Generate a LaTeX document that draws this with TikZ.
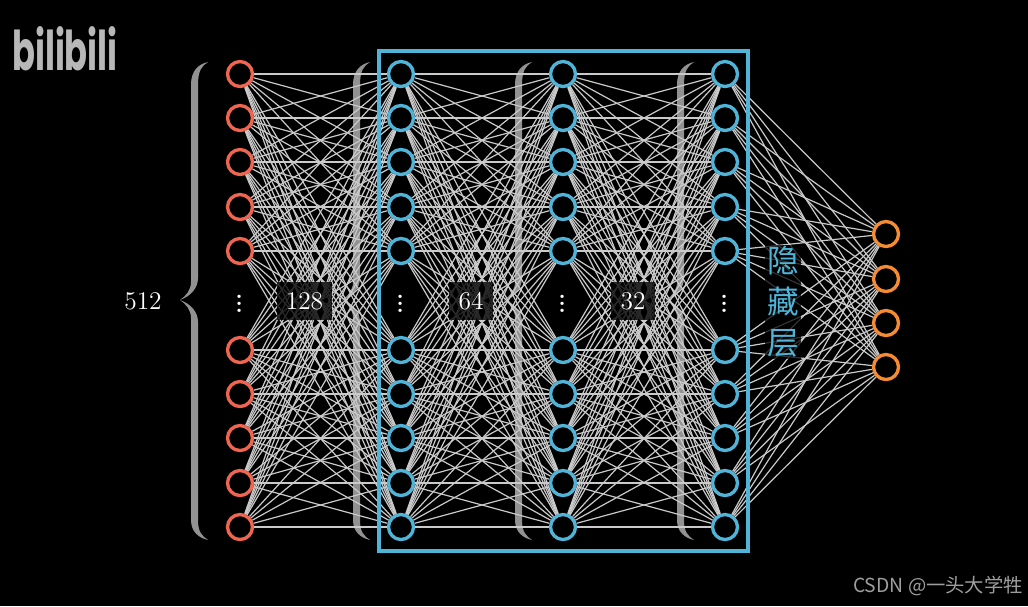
\documentclass[tikz,border=0pt]{standalone}
\usepackage{fontspec}
\newfontfamily\cjkfont{Noto Sans CJK SC}
\newfontfamily\logofont{Poppins}
\usetikzlibrary{arrows.meta,positioning}
\definecolor{inputred}{HTML}{F0654F}
\definecolor{hiddenblue}{HTML}{4FB4D8}
\definecolor{outputorange}{HTML}{F58B32}
\definecolor{edgegray}{HTML}{CACACA}
\definecolor{bracegray}{HTML}{929292}

\begin{document}
\begin{tikzpicture}[
    x=0.02cm, y=-0.02cm,
    every node/.style={font=\fontsize{14.5}{16}\selectfont, text=white},
    neuron/.style={circle, draw, fill=black, line width=1.9pt, minimum size=0.5cm, inner sep=0pt},
    inputn/.style={neuron, draw=inputred},
    hiddenn/.style={neuron, draw=hiddenblue},
    outputn/.style={neuron, draw=outputorange},
    link/.style={draw=edgegray, line width=0.68pt},
    frame/.style={draw=hiddenblue, line width=2.3pt},
    countbox/.style={fill=black, fill opacity=0.8, text opacity=1, minimum height=0.76cm, inner sep=0pt},
    bracket/.pic={
        \fill[bracegray] (17,-238) .. controls (8,-236) and (0,-230) .. (0,-215) -- (0,-18)
            .. controls (0,-10) and (-5,-4) .. (-11,0) .. controls (-5,4) and (0,10) .. (0,18)
            -- (0,220) .. controls (0,232) and (8,238) .. (17,240)
            .. controls (11,236) and (7,232) .. (7,220) -- (7,22)
            .. controls (7,12) and (0,4) .. (-11,0) .. controls (0,-4) and (7,-12) .. (7,-22)
            -- (7,-215) .. controls (7,-230) and (11,-234) .. (17,-238) -- cycle;
    }
]
\fill[black] (0,0) rectangle (1028,606);
\useasboundingbox (0,0) rectangle (1028,606);

\foreach \bx in {191,353,515,677}
    \pic at (\bx,300) {bracket};

% layers
\foreach \lname/\lx/\lstyle in {a/240/inputn, b/401/hiddenn, c/563/hiddenn, d/725/hiddenn} {
    \foreach \i/\ly in {1/74,2/118,3/162,4/207,5/251,6/350,7/394,8/438,9/483,10/527}
        \node[\lstyle] (\lname\i) at (\lx,\ly) {};
    \node[font=\fontsize{23}{24}\selectfont, inner sep=0pt] (\lname dots) at (\lx,299) {$\vdots$};
}
\foreach \i/\ly in {1/234,2/279,3/323,4/367}
    \node[outputn] (out\i) at (886,\ly) {};

% connections
\foreach \from/\to in {a/b, b/c, c/d}
    \foreach \i in {1,...,10}
        \foreach \j in {1,...,10}
            \draw[link] (\from\i) -- (\to\j);
\foreach \i in {1,...,10}
    \foreach \j in {1,...,4}
        \draw[link] (d\i) -- (out\j);

\draw[frame] (379,51) rectangle (748,551);

\node (total) at (143,301) {512};
\node[countbox, minimum width=1.1cm] (first) at (304.5,301) {128};
\node[countbox, minimum width=0.88cm] (second) at (471,301) {64};
\node[countbox, minimum width=0.88cm] (third) at (633,301) {32};
\node[fill=black, fill opacity=0.75, text opacity=1, text=hiddenblue, align=center, inner sep=1pt,
    font=\cjkfont\fontsize{18}{23.4}\selectfont] (hiddenlabel) at (783,302) {隐\\藏\\层};

\node[text=white!72!black, font=\logofont\bfseries\fontsize{24}{26}\selectfont, inner sep=0pt] (logo) at (65,49) {\scalebox{0.8}[1.3]{bilibili}};
\node[text=white!62!black, font=\cjkfont\fontsize{11}{13}\selectfont, inner sep=0pt] (mark) at (938,586) {CSDN @一头大学牲};
\end{tikzpicture}
\end{document}
